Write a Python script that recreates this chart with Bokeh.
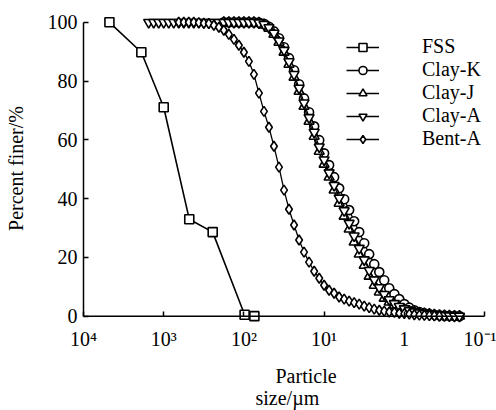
from bokeh.plotting import figure
from bokeh.models import Range1d, FixedTicker, Legend, LegendItem, Span, Title
from bokeh.embed import file_html
from bokeh.resources import INLINE

# ---- data -------------------------------------------------------------
# laser-diffraction size classes (um), shared by the clay / bentonite samples
size_um = [1540, 1334, 1155, 1000, 866, 750, 649, 562, 487, 422,
           365, 316, 274, 237, 205, 178, 154, 133, 115.5, 100,
           86.6, 75.0, 64.9, 56.2, 48.7, 42.2, 36.5, 31.6, 27.4, 23.7,
           20.5, 17.8, 15.4, 13.3, 11.5, 10.0, 8.66, 7.50, 6.49, 5.62,
           4.87, 4.22, 3.65, 3.16, 2.74, 2.37, 2.05, 1.78, 1.54, 1.33,
           1.155, 1.00, 0.866, 0.750, 0.649, 0.562, 0.487, 0.422, 0.365, 0.316,
           0.274, 0.237, 0.205]

# FSS (sieve analysis)
fss_size = [4750, 1900, 1000, 480, 245, 98, 74]
fss_pct = [100, 89.8, 71.1, 33.0, 28.6, 0.5, 0.0]

# Clay-K (first size class index 15)
clayK_start = 15
clayK_pct = [100, 100, 100, 100, 100, 100, 100, 99.9, 99.5, 98.5,
             96.9, 94.6, 91.5, 87.8, 83.7, 78.9, 74.1, 69.4, 64.6, 59.9,
             55.4, 51.4, 47.3, 43.5, 39.8, 36.1, 32.3, 28.6, 24.8, 21.1,
             17.7, 15.0, 12.2, 9.5, 7.5, 5.8, 4.1, 2.9, 2.0, 1.4,
             1.0, 0.7, 0.45, 0.27, 0.17, 0.1, 0.03, 0.0]

# Clay-J (first size class index 15)
clayJ_start = 15
clayJ_pct = [100, 100, 100, 100, 100, 100, 100, 99.8, 99.1, 98.0,
             95.9, 93.2, 89.8, 85.7, 81.3, 76.5, 71.4, 66.3, 61.2, 56.1,
             51.7, 47.3, 42.9, 38.4, 34.0, 29.6, 25.2, 21.1, 17.3, 13.6,
             10.5, 8.2, 6.1, 4.8, 3.7, 2.9, 2.2, 1.7, 1.4, 1.0,
             0.85, 0.7, 0.45, 0.27, 0.17, 0.1, 0.03, 0.0]

# Clay-A (first size class index 0)
clayA_start = 0
clayA_pct = [100, 100, 100, 100, 100, 100, 100, 100, 100, 100,
             100, 100, 100, 100, 100, 100, 100, 100, 100, 100,
             100, 100, 99.8, 99.3, 98.2, 96.3, 93.7, 90.5, 86.6, 82.3,
             77.6, 72.6, 67.6, 62.6, 57.6, 53.2, 48.8, 44.5, 40.2, 35.9,
             31.6, 27.3, 23.1, 19.2, 15.6, 12.4, 9.7, 7.4, 5.6, 4.3,
             3.3, 2.5, 1.9, 1.5, 1.1, 0.85, 0.65, 0.45, 0.3, 0.2,
             0.1, 0.05, 0.0]

# Bent-A (first size class index 6)
bentA_start = 6
bentA_pct = [100, 100, 100, 100, 99.9, 99.7, 99.6, 99.0, 98.3, 97.3,
             95.9, 94.2, 92.2, 89.8, 86.7, 82.3, 75.9, 69.7, 64.3, 57.8,
             50.7, 42.9, 36.4, 31.0, 25.9, 21.8, 18.4, 15.3, 12.9, 10.5,
             8.8, 7.8, 6.5, 5.8, 5.1, 4.6, 4.1, 3.4, 2.9, 2.4,
             2.0, 1.7, 1.4, 1.3, 1.0, 0.85, 0.7, 0.5, 0.35, 0.27,
             0.17, 0.1, 0.0]

x_ticks = [1e4, 1e3, 1e2, 1e1, 1, 0.1]
x_tick_labels = ["10\u2074", "10\u00b3", "10\u00b2", "10\u00b9", "1", "10\u207b\u00b9"]
y_ticks = [0, 20, 40, 60, 80, 100]

FONT = "Liberation Serif"

# ---- figure -----------------------------------------------------------
p = figure(width=496, height=410, x_axis_type="log",
           x_range=Range1d(1e4, 0.1), y_range=Range1d(-2.5, 103),
           output_backend="svg", toolbar_location=None,
           min_border_left=83, min_border_right=12,
           min_border_top=13, min_border_bottom=87)
p.outline_line_color = None
p.xgrid.visible = False
p.ygrid.visible = False
p.background_fill_color = "white"
p.border_fill_color = "white"

# x axis: sits at the frame bottom; its line is drawn at y = 0 by a Span,
# ticks reach from y = 0 upward
xa = p.xaxis[0]
xa.ticker = FixedTicker(ticks=x_ticks)
xa.major_label_overrides = {float(k): v for k, v in zip(x_ticks, x_tick_labels)}
xa.axis_line_color = None
xa.major_tick_in = 12
xa.major_tick_out = -7
xa.minor_tick_line_color = None
xa.major_label_standoff = 4
xa.major_tick_line_width = 1.5
xa.major_tick_line_color = "black"
xa.major_label_text_font = FONT
xa.major_label_text_font_size = "20px"
xa.major_label_text_color = "black"
p.add_layout(Span(location=0, dimension="width", line_color="black",
                  line_width=1.5))

# y axis
ya = p.yaxis[0]
ya.bounds = (0, 100)
ya.ticker = FixedTicker(ticks=y_ticks)
ya.major_tick_in = 5
ya.major_tick_out = 0
ya.minor_tick_line_color = None
ya.major_label_standoff = 6
ya.axis_line_width = 1.5
ya.major_tick_line_width = 1.5
ya.major_label_text_font = FONT
ya.major_label_text_font_size = "20px"
ya.major_label_text_color = "black"
ya.axis_line_color = "black"
ya.axis_label = "Percent finer/%"
ya.axis_label_text_font = FONT
ya.axis_label_text_font_size = "20px"
ya.axis_label_text_font_style = "normal"
ya.axis_label_text_color = "black"
ya.axis_label_standoff = 18


def series(xs, ys, marker, size, lw=1.3):
    ln = p.line(xs, ys, line_color="black", line_width=lw)
    sc = p.scatter(xs, ys, marker=marker, size=size, fill_color="white",
                   line_color="black", line_width=1.6)
    return [ln, sc]


def sub(start, ys):
    return size_um[start:start + len(ys)]


r_fss = series(fss_size, fss_pct, "square", 9, lw=1.6)
r_k = series(sub(clayK_start, clayK_pct), clayK_pct, "circle", 9)
r_j = series(sub(clayJ_start, clayJ_pct), clayJ_pct, "triangle", 10)
r_a = series(sub(clayA_start, clayA_pct), clayA_pct, "inverted_triangle", 10)
r_b = series(sub(bentA_start, bentA_pct), bentA_pct, "diamond", 10)

legend = Legend(items=[
    LegendItem(label="FSS", renderers=r_fss),
    LegendItem(label="Clay-K", renderers=r_k),
    LegendItem(label="Clay-J", renderers=r_j),
    LegendItem(label="Clay-A", renderers=r_a),
    LegendItem(label="Bent-A", renderers=r_b),
], location=(263, 173))
legend.background_fill_alpha = 0
legend.border_line_color = None
legend.padding = 0
legend.margin = 0
legend.spacing = -3
legend.glyph_width = 33
legend.glyph_height = 20
legend.label_height = 20
legend.label_standoff = 43
legend.label_text_font = FONT
legend.label_text_font_size = "20px"
legend.label_text_color = "black"
p.add_layout(legend)

# x-axis title, two lines
p.add_layout(Title(text="Particle", align="left", offset=192, standoff=20,
                   text_font=FONT, text_font_size="20px",
                   text_font_style="normal", text_color="black"), "below")
p.add_layout(Title(text="size/\u00b5m", align="left", offset=172, standoff=-24,
                   text_font=FONT, text_font_size="20px",
                   text_font_style="normal", text_color="black"), "below")

open("out.html", "w").write(file_html(p, INLINE))
